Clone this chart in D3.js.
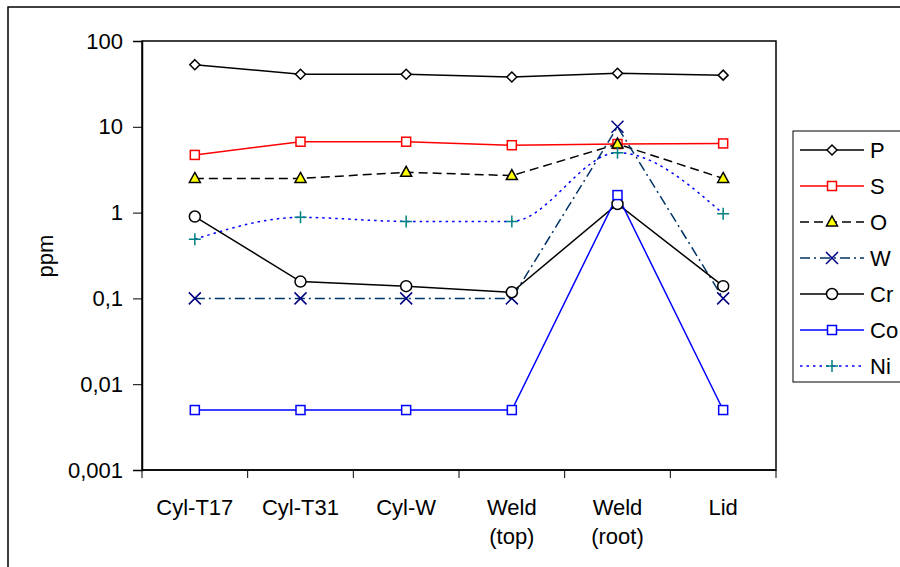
<!DOCTYPE html>
<html><head><meta charset="utf-8">
<script src="https://cdn.jsdelivr.net/npm/d3@7/dist/d3.min.js"></script>
<style>body{margin:0;background:#fff}svg{display:block;font-family:"Liberation Sans",Arial,sans-serif}</style>
</head><body><svg id="c" width="900" height="567"></svg>
<script>
const categories = ["Cyl-T17","Cyl-T31","Cyl-W","Weld (top)","Weld (root)","Lid"];
const P  = [53, 41, 41, 38, 42, 40];
const S  = [4.7, 6.7, 6.7, 6.1, 6.3, 6.4];
const O  = [2.5, 2.5, 2.95, 2.7, 6.3, 2.5];
const W  = [0.1, 0.1, 0.1, 0.1, 10, 0.1];
const Cr = [0.9, 0.157, 0.139, 0.118, 1.26, 0.139];
const Co = [0.005, 0.005, 0.005, 0.005, 1.6, 0.005];
const Ni = [0.49, 0.88, 0.79, 0.79, 5.0, 0.97];
const yTicks = [0.001, 0.01, 0.1, 1, 10, 100];
const yTickLabels = ["0,001","0,01","0,1","1","10","100"];

const series = [
  {name:"P", values:P, color:"#000000", dash:null, marker:"diamond", mstroke:"#000000", mfill:"#ffffff"},
  {name:"S", values:S, color:"#ff0000", dash:null, marker:"square", mstroke:"#ff0000", mfill:"#ffffff"},
  {name:"O", values:O, color:"#000000", dash:"9,5", marker:"triangle", mstroke:"#000000", mfill:"#ffff00"},
  {name:"W", values:W, color:"#003366", dash:"10,4,2,4", marker:"x", mstroke:"#000080", mfill:"none"},
  {name:"Cr", values:Cr, color:"#000000", dash:null, marker:"circle", mstroke:"#000000", mfill:"#ffffff"},
  {name:"Co", values:Co, color:"#0000ff", dash:null, marker:"square", mstroke:"#0000ff", mfill:"#ffffff"},
  {name:"Ni", values:Ni, color:"#0000ff", dash:"2.5,4", marker:"plus", mstroke:"#008080", mfill:"none", smooth:true}
];

const svg = d3.select("#c");
const L = 142, T = 41, R = 776, B = 470;
const FS = 22;

// outer frame
svg.append("rect").attr("x",8).attr("y",7).attr("width",1000).attr("height",1000)
  .attr("fill","none").attr("stroke","#000").attr("stroke-width",1.5);

const x = d3.scaleBand().domain(categories).range([L,R]).padding(0);
const y = d3.scaleLog().domain([0.001,100]).range([B,T]);
const cx = c => x(c) + x.bandwidth()/2;

// plot area border
svg.append("rect").attr("x",L).attr("y",T).attr("width",R-L).attr("height",B-T)
  .attr("fill","none").attr("stroke","#000").attr("stroke-width",1.5);

// y axis
const yAxis = d3.axisLeft(y).tickValues(yTicks).tickSize(9).tickPadding(10)
  .tickFormat(d=>yTickLabels[yTicks.indexOf(d)]);
const gy = svg.append("g").attr("transform",`translate(${L},0)`).call(yAxis);
gy.select(".domain").attr("stroke","#000").attr("stroke-width",1.5);
gy.selectAll(".tick line").attr("stroke","#000");
gy.selectAll(".tick text").attr("font-size",FS).attr("fill","#000").attr("font-family","'Liberation Sans',Arial,sans-serif");

// x axis
const gx = svg.append("g").attr("transform",`translate(0,${B})`);
gx.append("line").attr("x1",L).attr("x2",R).attr("stroke","#000").attr("stroke-width",1.5);
const boundaries = categories.map(c=>x(c)).concat([R]);
gx.selectAll("line.t").data(boundaries).enter().append("line").attr("class","t")
  .attr("x1",d=>d).attr("x2",d=>d).attr("y1",0).attr("y2",8).attr("stroke","#000");
categories.forEach(c=>{
  const parts = c.split(" ");
  const t = gx.append("text").attr("x",cx(c)).attr("y",45).attr("text-anchor","middle")
    .attr("font-size",FS).attr("fill","#000");
  parts.forEach((p,i)=>t.append("tspan").attr("x",cx(c)).attr("dy",i===0?0:29).text(p));
});

// y label
svg.append("text").attr("transform","translate(53,256) rotate(-90)").attr("text-anchor","middle")
  .attr("font-size",FS).attr("fill","#000").text("ppm");

function drawMarker(g, type, px, py, s){
  if(type==="diamond"){
    g.append("path").attr("d",`M${px},${py-5}L${px+5},${py}L${px},${py+5}L${px-5},${py}Z`)
      .attr("fill",s.mfill).attr("stroke",s.mstroke).attr("stroke-width",1.5);
  } else if(type==="square"){
    g.append("rect").attr("x",px-4.5).attr("y",py-4.5).attr("width",9).attr("height",9)
      .attr("fill",s.mfill).attr("stroke",s.mstroke).attr("stroke-width",1.5);
  } else if(type==="triangle"){
    g.append("path").attr("d",`M${px},${py-6}L${px+5.5},${py+4}L${px-5.5},${py+4}Z`)
      .attr("fill",s.mfill).attr("stroke",s.mstroke).attr("stroke-width",1.5);
  } else if(type==="circle"){
    g.append("circle").attr("cx",px).attr("cy",py).attr("r",5.5)
      .attr("fill",s.mfill).attr("stroke",s.mstroke).attr("stroke-width",1.5);
  } else if(type==="x"){
    g.append("path").attr("d",`M${px-6},${py-6}L${px+6},${py+6}M${px+6},${py-6}L${px-6},${py+6}`)
      .attr("fill","none").attr("stroke",s.mstroke).attr("stroke-width",1.5);
  } else if(type==="plus"){
    g.append("path").attr("d",`M${px-6},${py}L${px+6},${py}M${px},${py-6}L${px},${py+6}`)
      .attr("fill","none").attr("stroke",s.mstroke).attr("stroke-width",1.5);
  }
}

// lines
series.forEach(s=>{
  const pts = categories.map((c,i)=>[cx(c), y(s.values[i])]);
  const line = d3.line().curve(s.smooth ? d3.curveMonotoneX : d3.curveLinear);
  svg.append("path").attr("d",line(pts)).attr("fill","none").attr("stroke",s.color)
    .attr("stroke-width",1.5).attr("stroke-dasharray",s.dash);
});
// markers
series.forEach(s=>{
  const g = svg.append("g");
  categories.forEach((c,i)=>drawMarker(g, s.marker, cx(c), y(s.values[i]), s));
});

// legend
const lg = svg.append("g");
lg.append("rect").attr("x",793).attr("y",131).attr("width",200).attr("height",251)
  .attr("fill","#fff").attr("stroke","#000").attr("stroke-width",1);
series.forEach((s,i)=>{
  const ly = 150 + i*36;
  lg.append("line").attr("x1",800).attr("x2",864).attr("y1",ly).attr("y2",ly)
    .attr("stroke",s.color).attr("stroke-width",1.5).attr("stroke-dasharray",s.dash);
  drawMarker(lg, s.marker, 832, ly, s);
  lg.append("text").attr("x",870).attr("y",ly+8).attr("font-size",FS).attr("fill","#000").text(s.name);
});
</script></body></html>
